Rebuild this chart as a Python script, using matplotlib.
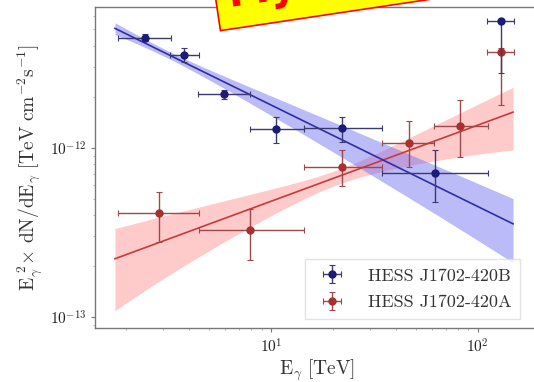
import numpy as np
import matplotlib
matplotlib.use("Agg")
import matplotlib.pyplot as plt

plt.rcParams['font.family'] = 'serif'
plt.rcParams['font.serif'] = ['cmr10', 'DejaVu Serif']
plt.rcParams['mathtext.fontset'] = 'cm'
plt.rcParams['axes.formatter.use_mathtext'] = True

# ---- data: HESS J1702-420B (blue) ----
E_B = [2.45, 3.81, 5.93, 10.6, 22.1, 62.0, 130.0]
E_B_lo = [1.82, 3.25, 4.42, 7.9, 14.4, 34.4, 111.0]
E_B_hi = [3.29, 4.47, 7.9, 14.4, 34.4, 112.0, 150.0]
F_B = [4.48e-12, 3.55e-12, 2.09e-12, 1.29e-12, 1.31e-12, 7.1e-13, 5.63e-12]
F_B_lo = [4.28e-12, 3.23e-12, 1.95e-12, 1.07e-12, 1.08e-12, 4.8e-13, 2.78e-12]
F_B_hi = [4.68e-12, 3.91e-12, 2.2e-12, 1.52e-12, 1.52e-12, 9.7e-13, 5.8e-12]

# ---- data: HESS J1702-420A (red) ----
E_A = [2.87, 7.9, 22.1, 46.3, 82.4, 130.0]
E_A_lo = [1.82, 4.47, 14.4, 34.4, 61.4, 111.0]
E_A_hi = [4.47, 14.4, 34.4, 61.4, 112.0, 150.0]
F_A = [4.12e-13, 3.27e-13, 7.72e-13, 1.07e-12, 1.35e-12, 3.7e-12]
F_A_lo = [2.78e-13, 2.17e-13, 5.96e-13, 7.7e-13, 8.8e-13, 1.8e-12]
F_A_hi = [5.5e-13, 4.36e-13, 9.7e-13, 1.43e-12, 1.92e-12, 3.9e-12]

# ---- power-law fit parameters (E^2 dN/dE at 10 TeV, photon index) ----
E_ref = 10.0
fit_Emin, fit_Emax = 1.76, 148.0
B_norm, B_index = 1.79e-12, 2.60
B_rel0, B_relslope, B_pivot = 0.05, 0.244, 0.5
A_norm, A_index = 4.83e-13, 1.55
A_rel0, A_relslope, A_pivot = 0.10, 0.461, 1.324

fig = plt.figure(figsize=(5.34, 3.82), dpi=100)
ax = fig.add_axes([0.178, 0.141, 0.83, 0.841])
ax.set_xscale('log')
ax.set_yscale('log')

E = np.logspace(np.log10(fit_Emin), np.log10(fit_Emax), 200)

def model(norm, index, rel0, relslope, pivot):
    f = norm * (E / E_ref) ** (2 - index)
    r = np.sqrt(rel0 ** 2 + (relslope * (np.log10(E) - pivot)) ** 2)
    return f, f * (1 - r), f * (1 + r)

fB, fB_lo, fB_hi = model(B_norm, B_index, B_rel0, B_relslope, B_pivot)
fA, fA_lo, fA_hi = model(A_norm, A_index, A_rel0, A_relslope, A_pivot)

ax.fill_between(E, fA_lo, fA_hi, color='#ff8a8a', alpha=0.45, lw=0, zorder=1)
ax.fill_between(E, fB_lo, fB_hi, color='#6a6af0', alpha=0.45, lw=0, zorder=1)
ax.plot(E, fA, color='#c83a3a', lw=1.2, zorder=2)
ax.plot(E, fB, color='#2e2ea6', lw=1.2, zorder=2)

def errs(x, lo, hi):
    x = np.array(x); lo = np.array(lo); hi = np.array(hi)
    return np.vstack([x - lo, hi - x])

hB = ax.errorbar(E_B, F_B, xerr=errs(E_B, E_B_lo, E_B_hi), yerr=errs(F_B, F_B_lo, F_B_hi),
                 fmt='o', ms=5, color='#1c1c78', ecolor='#3a3a70', elinewidth=1.0,
                 capsize=2, capthick=0.8, zorder=4, label='HESS J1702-420B')
hA = ax.errorbar(E_A, F_A, xerr=errs(E_A, E_A_lo, E_A_hi), yerr=errs(F_A, F_A_lo, F_A_hi),
                 fmt='o', ms=5, color='#a8302e', ecolor='#9a4a4a', elinewidth=1.0,
                 capsize=2, capthick=0.8, zorder=3, label='HESS J1702-420A')

ax.set_xlim(1.41, 196)
ax.set_ylim(8.6e-14, 6.8e-12)

for s in ax.spines.values():
    s.set_color('#777777')
    s.set_linewidth(1.0)
ax.tick_params(which='major', direction='out', length=3, width=0.8, colors='#777777',
               labelcolor='#222222', labelsize=11)
ax.tick_params(which='minor', direction='out', length=1.5, width=0.6, colors='#aaaaaa')
ax.tick_params(axis='y', which='minor', labelleft=False)

ax.set_xlabel(r'$\mathrm{E}_{\gamma}\ [\mathrm{TeV}]$', fontsize=14, color='#333333', labelpad=2)
ax.set_ylabel(r'$\mathrm{E}_{\gamma}^{\ 2}\!\times\,\mathrm{dN/dE}_{\gamma}\ [\mathrm{TeV\ cm^{-2}s^{-1}}]$',
              fontsize=14, color='#333333', labelpad=3)

leg = ax.legend(handles=[hB, hA], loc='lower right', fontsize=13, frameon=True,
                fancybox=False, edgecolor='#dddddd', borderpad=0.5, handletextpad=1.0,
                labelspacing=0.6, bbox_to_anchor=(0.98, 0.0))
for t in leg.get_texts():
    t.set_color('#333333')

# yellow stamp partly cut off at the top
fig.text(0.4325, 0.957, 'My Chart', rotation=8.5, fontsize=30, fontweight='bold',
         family='DejaVu Sans', color='#ff0000', ha='left', va='bottom',
         rotation_mode='anchor',
         bbox=dict(boxstyle='square,pad=0.3', fc='#ffff00', ec='#ff0000', lw=1.2),
         zorder=10)

fig.savefig('out.png', dpi=100)
